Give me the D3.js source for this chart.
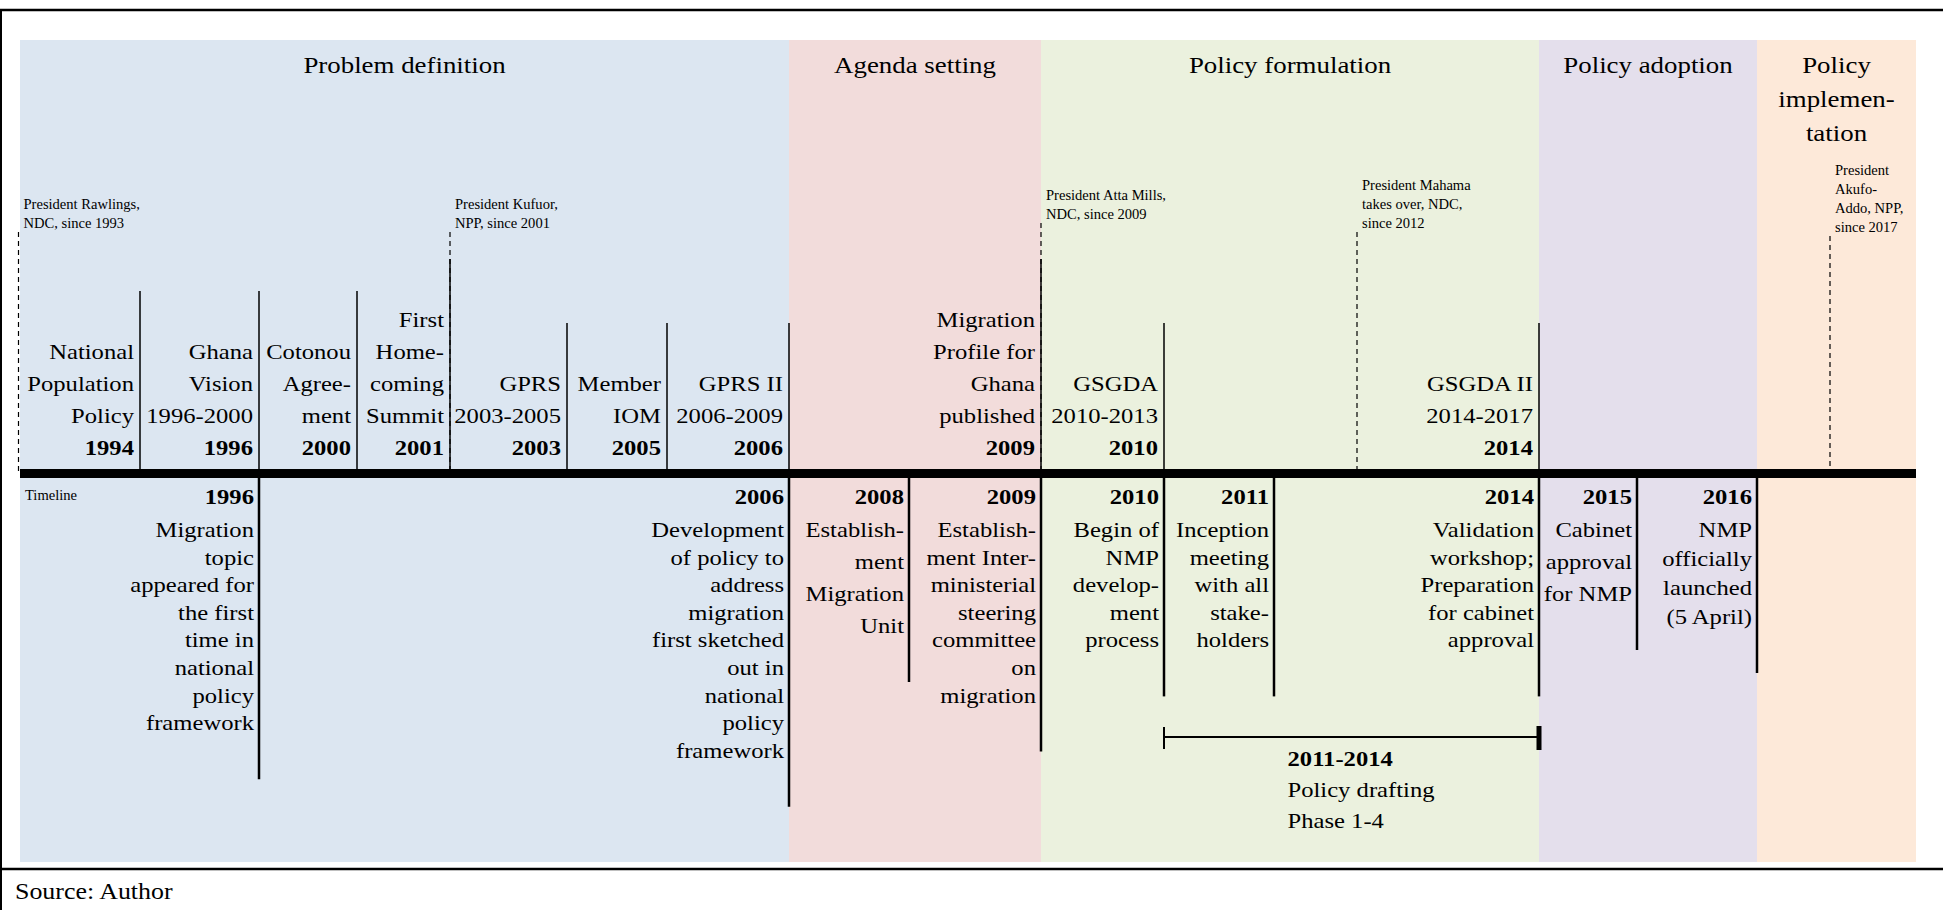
<!DOCTYPE html>
<html>
<head>
<meta charset="utf-8">
<script src="https://cdn.jsdelivr.net/npm/d3@7"></script>
<style>
  body { margin: 0; background: #fff; }
  svg text { font-family: "Liberation Serif", "Times New Roman", serif; fill: #000; }
</style>
</head>
<body>
<div id="chart"></div>
<script>
// phases of the policy cycle
var phaseTitles = [["Problem definition"], ["Agenda setting"], ["Policy formulation"], ["Policy adoption"], ["Policy", "implemen-", "tation"]];
var phaseFrom = [1993, 2006, 2009, 2014, 2016];
var phaseTo = [2006, 2009, 2014, 2016, 2018];
var phaseColors = ["#dce6f1", "#f2dcdb", "#ebf1de", "#e4dfec", "#fde9d9"];

// events above the timeline (national framework)
var upperYears = [1994, 1996, 2000, 2001, 2003, 2005, 2006, 2009, 2010, 2014];
var upperLabels = [
    ["National", "Population", "Policy"],
    ["Ghana", "Vision", "1996-2000"],
    ["Cotonou", "Agree-", "ment"],
    ["First", "Home-", "coming", "Summit"],
    ["GPRS", "2003-2005"],
    ["Member", "IOM"],
    ["GPRS II", "2006-2009"],
    ["Migration", "Profile for", "Ghana", "published"],
    ["GSGDA", "2010-2013"],
    ["GSGDA II", "2014-2017"]
];

// events below the timeline (migration policy process)
var lowerYears = [1996, 2006, 2008, 2009, 2010, 2011, 2014, 2015, 2016];
var lowerLabels = [
    ["Migration", "topic", "appeared for", "the first", "time in", "national", "policy", "framework"],
    ["Development", "of policy to", "address", "migration", "first sketched", "out in", "national", "policy", "framework"],
    ["Establish-", "ment", "Migration", "Unit"],
    ["Establish-", "ment Inter-", "ministerial", "steering", "committee", "on", "migration"],
    ["Begin of", "NMP", "develop-", "ment", "process"],
    ["Inception", "meeting", "with all", "stake-", "holders"],
    ["Validation", "workshop;", "Preparation", "for cabinet", "approval"],
    ["Cabinet", "approval", "for NMP"],
    ["NMP", "officially", "launched", "(5 April)"]
];

// presidents (dashed markers)
var presidentYears = [1993, 2001, 2009, 2012, 2017];
var presidentLabels = [
    ["President Rawlings,", "NDC, since 1993"],
    ["President Kufuor,", "NPP, since 2001"],
    ["President Atta Mills,", "NDC, since 2009"],
    ["President Mahama", "takes over, NDC,", "since 2012"],
    ["President", "Akufo-", "Addo, NPP,", "since 2017"]
];

var draftingSpan = [2011, 2014];
var draftingLabel = ["Policy drafting", "Phase 1-4"];

// ---- layout ----
var width = 1943, height = 910;
var SX = 1.12;          // text in the original is set a little wide
var panelTop = 40, panelBottom = 862;
var barY = 473.5;

// the timeline is not drawn to scale: every stop year has its own column edge
var stopYears = [1993, 1994, 1996, 2000, 2001, 2003, 2005, 2006, 2008, 2009, 2010, 2011, 2012, 2014, 2015, 2016, 2017, 2018];
var stopX =     [20, 140, 259, 357, 450, 567, 667, 789, 909, 1041, 1164, 1274, 1357, 1539, 1637, 1757, 1830, 1916];
var x = d3.scaleLinear().domain(stopYears).range(stopX);

var lowerGap = {2008: 32, 2015: 32, 2016: 29};
var presidentLift = {2009: 9, 2017: -4};

var svg = d3.select("#chart")
    .append("svg")
    .attr("width", width)
    .attr("height", height);

function addText(g, str, tx, ty, opts) {
    opts = opts || {};
    return g.append("text")
        .attr("transform", "translate(" + tx + "," + ty + ") scale(" + (opts.sx || SX) + ",1)")
        .attr("text-anchor", opts.anchor || "end")
        .style("font-size", (opts.size || 22) + "px")
        .style("font-weight", opts.bold ? "bold" : "normal")
        .text(str);
}

// phase panels
var phases = svg.append("g");
phaseTitles.forEach(function(t, i) {
    var x0 = x(phaseFrom[i]), x1 = x(phaseTo[i]);
    phases.append("rect")
        .attr("x", x0).attr("y", panelTop)
        .attr("width", x1 - x0).attr("height", panelBottom - panelTop)
        .attr("fill", phaseColors[i]);
    t.forEach(function(line, k) {
        addText(phases, line, (x0 + x1) / 2, 73 + k * 34, {anchor: "middle", size: 24});
    });
});

// frame
svg.append("line").attr("x1", 0).attr("x2", width).attr("y1", 10).attr("y2", 10)
    .attr("stroke", "#000").attr("stroke-width", 2.5);
svg.append("line").attr("x1", 0).attr("x2", width).attr("y1", 869).attr("y2", 869)
    .attr("stroke", "#000").attr("stroke-width", 2.5);
svg.append("line").attr("x1", 1).attr("x2", 1).attr("y1", 10).attr("y2", height)
    .attr("stroke", "#000").attr("stroke-width", 2);

// presidents
var pres = svg.append("g");
presidentYears.forEach(function(yr, i) {
    var px = x(yr) - (i === 0 ? 1.5 : 0);
    var lift = presidentLift[yr] || 0;
    pres.append("line")
        .attr("x1", px).attr("x2", px)
        .attr("y1", 232 - lift).attr("y2", barY)
        .attr("stroke", "#000").attr("stroke-width", 1.2)
        .attr("stroke-dasharray", "5,4");
    var lines = presidentLabels[i];
    lines.forEach(function(line, k) {
        addText(pres, line, px + 5, 228 - lift - (lines.length - 1 - k) * 19, {anchor: "start", size: 14, sx: 1.04});
    });
});

// upper events
var upper = svg.append("g");
upperYears.forEach(function(yr, i) {
    var ex = x(yr);
    var lines = upperLabels[i].concat([String(yr)]);
    var n = lines.length;
    var firstBase = 455 - (n - 1) * 32;
    upper.append("line")
        .attr("x1", ex).attr("x2", ex)
        .attr("y1", firstBase - 68).attr("y2", barY)
        .attr("stroke", "#000").attr("stroke-width", 1.5);
    lines.forEach(function(line, k) {
        addText(upper, line, ex - 6, firstBase + k * 32, {bold: k === n - 1});
    });
});

// lower events
var lower = svg.append("g");
lowerYears.forEach(function(yr, i) {
    var ex = x(yr);
    var gap = lowerGap[yr] || 27.6;
    var lines = lowerLabels[i];
    var lastBase = 537 + (lines.length - 1) * gap;
    lower.append("line")
        .attr("x1", ex).attr("x2", ex)
        .attr("y1", barY).attr("y2", lastBase + 49)
        .attr("stroke", "#000").attr("stroke-width", 2.5);
    addText(lower, String(yr), ex - 5, 504, {bold: true});
    lines.forEach(function(line, k) {
        addText(lower, line, ex - 5, 537 + k * gap);
    });
});

// main timeline bar
svg.append("line")
    .attr("x1", x(1993)).attr("x2", x(2018))
    .attr("y1", barY).attr("y2", barY)
    .attr("stroke", "#000").attr("stroke-width", 9);
addText(svg, "Timeline", 25, 500, {anchor: "start", size: 14, sx: 1.04});

// drafting period bracket
var dl = x(lowerYears[lowerYears.indexOf(draftingSpan[0]) - 1]);
var dr = x(draftingSpan[1]);
var br = svg.append("g");
br.append("line").attr("x1", dl).attr("x2", dr).attr("y1", 737).attr("y2", 737)
    .attr("stroke", "#000").attr("stroke-width", 2);
br.append("line").attr("x1", dl).attr("x2", dl).attr("y1", 727).attr("y2", 749)
    .attr("stroke", "#000").attr("stroke-width", 2);
br.append("line").attr("x1", dr).attr("x2", dr).attr("y1", 726).attr("y2", 750)
    .attr("stroke", "#000").attr("stroke-width", 5);
var dx = (dl + dr) / 2 - 64;
addText(br, draftingSpan.join("-"), dx, 766, {anchor: "start", bold: true});
draftingLabel.forEach(function(line, k) {
    addText(br, line, dx, 797 + k * 31, {anchor: "start"});
});

// source note
addText(svg, "Source: Author", 15, 899, {anchor: "start", size: 24, sx: 1.08});
</script>
</body>
</html>
